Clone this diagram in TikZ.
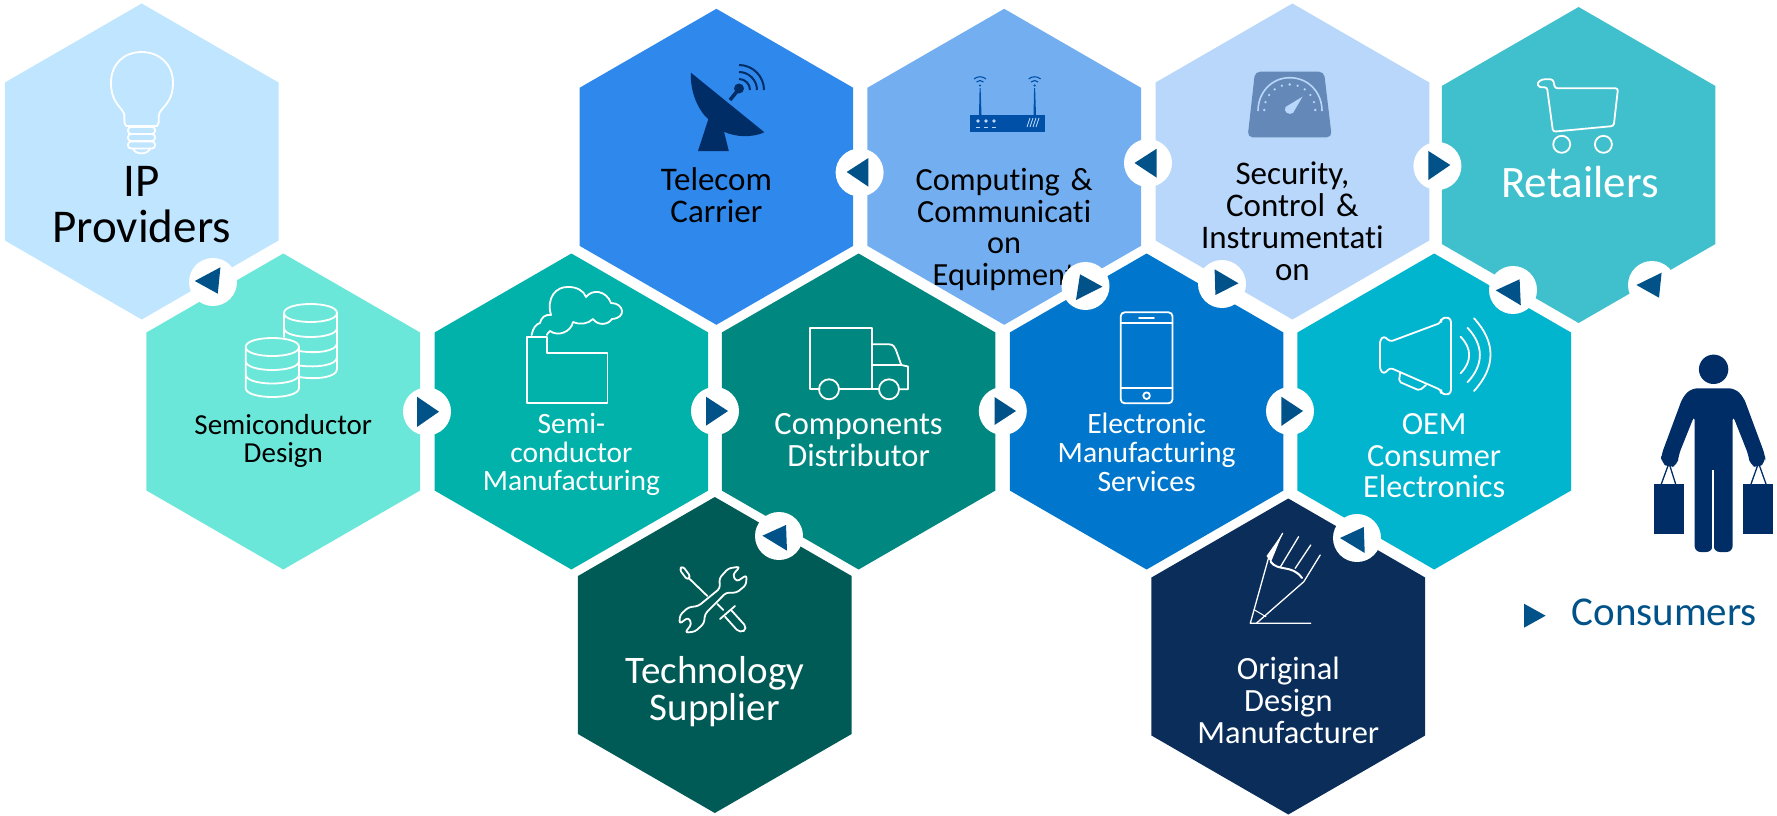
\documentclass[tikz,border=0pt]{standalone}
\usepackage{fontspec}
\setmainfont[Ligatures=NoCommon]{Carlito}
\usepackage{tikz}
\usetikzlibrary{shapes.geometric}

\definecolor{colIP}{HTML}{C0E6FF}
\definecolor{colDesign}{HTML}{6AE7D9}
\definecolor{colFab}{HTML}{00B2AA}
\definecolor{colDistrib}{HTML}{00877F}
\definecolor{colTech}{HTML}{005A55}
\definecolor{colTelecom}{HTML}{2F88EC}
\definecolor{colComputing}{HTML}{73AFF0}
\definecolor{colSecurity}{HTML}{B8D7FA}
\definecolor{colRetail}{HTML}{40C0CC}
\definecolor{colEMS}{HTML}{0077CC}
\definecolor{colOEM}{HTML}{00B5CD}
\definecolor{colODM}{HTML}{0A2D5A}
\definecolor{colTri}{HTML}{005288}
\definecolor{colDark}{HTML}{002D66}
\definecolor{colRouter}{HTML}{0050A8}
\definecolor{colGauge}{HTML}{6488B8}

\begin{document}
\begin{tikzpicture}[x=1pt, y=-1pt,
  hexa/.style ={shape=regular polygon, regular polygon sides=6,
    regular polygon rotate=30, minimum size=316pt, inner sep=0pt, outer sep=0pt},
  %
  hextext/.style 2 args={anchor=base, align=center, text width=260pt,
    font=\fontsize{#1}{#2}\selectfont},
  %
  badge/.style ={circle, fill=white, minimum size=48pt, inner sep=0pt},
  tri/.style ={fill=colTri},
  icon/.style ={draw=white, line width=1.8pt, line join=round, line cap=round} ]

  \useasboundingbox (0,0) rectangle (1777,816);

  \begin{scope}
    %%%%%%%%%%%%%%%%%%%%%%%%%%%%%%% hexagons
    \node [hexa, fill=colIP] (ip) at (141.7,161.5) {};
    \node [hexa, fill=colDesign] (design) at (283.3,411.5) {};
    \node [hexa, fill=colFab] (fab) at (571.4,411.5) {};
    \node [hexa, fill=colDistrib] (distrib) at (858.6,411.5) {};
    \node [hexa, fill=colEMS] (ems) at (1146.6,411.5) {};
    \node [hexa, fill=colOEM] (oem) at (1434.2,411.5) {};
    \node [hexa, fill=colTelecom] (telecom) at (716.4,166.8) {};
    \node [hexa, fill=colComputing] (computing) at (1004.2,166.8) {};
    \node [hexa, fill=colSecurity] (security) at (1292.4,161.5) {};
    \node [hexa, fill=colRetail] (retail) at (1578.6,165) {};
    \node [hexa, fill=colTech] (tech) at (714.8,655) {};
    \node [hexa, fill=colODM] (odm) at (1288.3,656.5) {};
  \end{scope}

  \begin{scope}
    %%%%%%%%%%%%%%%%%%%%%%%%%%%%%%% labels
    \node [hextext={47}{46}] (ipText) at (141.7,196.5) {IP\\Providers};
    \node [hextext={29}{28.5}] (designText) at (283.3,434) {Semiconductor\\Design};
    \node [hextext={29.5}{28.5}, text=white] (fabText) at (571.4,433.5) {Semi-\\conductor\\Manufacturing};
    \node [hextext={32.5}{31.7}, text=white] (distribText) at (858.6,434.5) {Components\\Distributor};
    \node [hextext={29.6}{28.8}, text=white] (emsText) at (1146.6,433.8) {Electronic\\Manufacturing\\Services};
    \node [hextext={32.3}{31.7}, text=white] (oemText) at (1434.2,434.5) {OEM\\Consumer\\Electronics};
    \node [hextext={33}{31.7}] (telecomText) at (716.4,190.5) {Telecom\\Carrier};
    \node [hextext={32.3}{31.7}] (computingText) at (1004.2,190.5) {Computing \&\\Communicati\\on\\Equipment};
    \node [hextext={33}{32}] (securityText) at (1292.4,184.5) {Security,\\Control \&\\Instrumentati\\on};
    \node [hextext={45}{46}, text=white] (retailText) at (1580,197.2) {Retailers};
    \node [hextext={39}{37}, text=white] (techText) at (714.8,683.5) {Technology\\Supplier};
    \node [hextext={32.4}{31.7}, text=white] (odmText) at (1288.3,679.8) {Original\\Design\\Manufacturer};
    \node [hextext={41}{36}, text=colTri, anchor=base west, text width=205pt, align=left] (consumerText) at (1568,625) {Consumers};
  \end{scope}

  %%%%%%%%%%%%%%%%%%%%%%%%%%%%%%% icons
  % bulb
  \draw [icon] (126,126) .. controls (124,124) and (124.4,122) .. (124.4,116)
    .. controls (124.4,108) and (111,105) .. (111,82.7)
    .. controls (111,64) and (124,52) .. (141.6,52)
    .. controls (159,52) and (173,64) .. (173,82.7)
    .. controls (173,105) and (158.8,108) .. (158.8,116)
    .. controls (158.8,122) and (159,124) .. (157,126) -- cycle;
  \foreach \ty in {127,134,141.5}
    \draw [icon, rounded corners=3pt] (128,\ty) rectangle (155,\ty+7);
  \draw [icon] (133,148.5) .. controls (135,155) and (148,155) .. (150,148.5);

  % coins
  \draw [icon] (284,337) -- (284,313) .. controls (284,301) and (337,301) .. (337,313)
    .. controls (337,325) and (284,325) .. (284,313);
  \draw [icon] (337,313) -- (337,369);
  \draw [icon] (284,328) .. controls (284,340) and (337,340) .. (337,328);
  \draw [icon] (299,351) .. controls (318,354) and (337,351) .. (337,343);
  \draw [icon] (299,365.5) .. controls (318,368) and (337,365) .. (337,357);
  \draw [icon] (299,377) .. controls (318,380) and (337,377) .. (337,369);
  \draw [icon] (245.7,347) .. controls (245.7,335) and (299,335) .. (299,347)
    .. controls (299,359) and (245.7,359) .. (245.7,347) -- (245.7,388)
    .. controls (245.7,400) and (299,400) .. (299,388) -- (299,347);
  \foreach \ty in {361,374.5}
    \draw [icon] (245.7,\ty) .. controls (245.7,\ty+12) and (299,\ty+12) .. (299,\ty);

  % factory
  \draw [icon] (527,336.7) -- (547,336.7) -- (547,352.7) -- (607.5,352.7)
    -- (607.5,402.7) -- (527,402.7) -- cycle;
  \draw [icon] (531.6,335) .. controls (533,328) and (536,324) .. (540,323)
    .. controls (541,318) and (545,314) .. (551,315)
    .. controls (546,298) and (556,286) .. (569,287)
    .. controls (577,287) and (584,291) .. (586,297)
    .. controls (592,289) and (606,290) .. (611,303)
    .. controls (624,303) and (627,318) .. (612,319)
    .. controls (608,325) and (598,326) .. (593,319)
    .. controls (588,324) and (580,325) .. (573,322)
    .. controls (571,332) and (558,337) .. (550,331)
    .. controls (548,333) and (547,334) .. (547,335);

  % truck
  \draw [icon] (819.6,389.3) -- (809.7,389.3) -- (809.7,328.3) -- (872,328.3) -- (872,389.3);
  \draw [icon] (838.7,389.3) -- (878.9,389.3);
  \draw [icon] (872,344.3) -- (889,344.3) .. controls (893,344.3) and (895,347) .. (896,350)
    -- (901.3,365) -- (908,366.5) -- (908,389.3) -- (899,389.3);
  \draw [icon] (872,365) -- (901.3,365);
  \draw [icon] (829,389.3) circle (10);
  \draw [icon] (889,389.3) circle (10);

  % tools
  \begin{scope}[shift={(560,520)}, scale=1/3]
    \draw [icon, rounded corners=3pt] (480,205) -- (478,175) -- (505,145) -- (540,140)
      -- (518,165) -- (530,185) -- (560,165) -- (558,195) -- (530,218) -- (498,218)
      -- (435,282) -- (432,310) -- (405,335) -- (375,338) -- (395,312) -- (385,292)
      -- (358,312) -- (360,285) -- (385,262) -- (415,258) -- cycle;
    \draw [icon, rounded corners=3pt] (358,148) -- (368,138) -- (392,170) -- (382,180) -- cycle;
    \draw [icon] (387,175) -- (442,228);
    \draw [icon] (472,252) -- (490,270);
    \draw [icon] (480,297) -- (525,258);
    \draw [icon, rounded corners=5pt] (495,290) -- (540,340) -- (563,325) -- (515,272);
  \end{scope}

  % dish
  \fill [colDark] (690.9,72.7) -- (764.4,132.3) .. controls (752,138) and (735,137) .. (724,131.7)
    -- (728.8,151) -- (698,151) -- (708.3,119.3) .. controls (698,110) and (690,92) .. (690.9,72.7) -- cycle;
  \draw [colDark, line width=3.5pt] (730,100) -- (738.7,89.3);
  \fill [colDark] (739,88.5) circle (5);
  \foreach \rr in {11,18,25}
    \draw [colDark, line width=2pt] (739,90-\rr) .. controls (739+.55*\rr,90-\rr) and (739+\rr,90-.55*\rr) .. (739+\rr,90);

  % router
  \fill [colRouter] (970.4,115) rectangle (1044.8,132);
  \fill [colRouter] (979,115) -- (979.6,88) -- (980.6,88) -- (981.5,115) -- cycle;
  \fill [colRouter] (1033.5,115) -- (1034.1,88) -- (1035.1,88) -- (1036,115) -- cycle;
  \foreach \ax in {980,1034.6} {
    \fill [colRouter] (\ax,85.5) circle (1.2);
    \draw [colRouter, line width=1.1pt] (\ax-3.5,82) .. controls (\ax-1.5,80) and (\ax+1.5,80) .. (\ax+3.5,82);
    \draw [colRouter, line width=1.1pt] (\ax-6,79) .. controls (\ax-2.5,76) and (\ax+2.5,76) .. (\ax+6,79);
  }
  \foreach \dx in {978,986,994} {
    \fill [colSecurity] (\dx,121) circle (1.8);
    \draw [colSecurity, line width=.7pt] (\dx-1.8,127) -- (\dx+1.8,127);
  }
  \foreach \sx in {1027,1030,1033,1036}
    \draw [colSecurity, line width=.9pt] (\sx,127) -- (\sx+3,118);

  % gauge
  \fill [colGauge, rounded corners=5pt] (1255,71.7) -- (1324,71.7) -- (1331.8,137.3) -- (1247.6,137.3) -- cycle;
  \draw [colSecurity, line width=1.6pt] (1258,111) .. controls (1258,92) and (1272,77.7) .. (1289.7,77.7)
    .. controls (1308,77.7) and (1322,92) .. (1322,111);
  \foreach \ang in {0,18,...,180}
    \fill [colSecurity] ({1289.7+25.5*cos(\ang)},{110-25.5*sin(\ang)}) circle (1.3);
  \fill [colSecurity] (1302.5,96.7) -- (1293,113) .. controls (1289,115.5) and (1283,112) .. (1285.5,107) -- cycle;

  % cart
  \draw [icon, rounded corners=2.5pt] (1542,79.3) -- (1553,79.3) -- (1555,88.3) -- (1618,88.3)
    -- (1613.7,126) -- (1553,131.7) -- (1547,87.3) -- (1539,87.3) -- (1537,83) -- cycle;
  \draw [icon] (1561.7,144.3) circle (8.5);
  \draw [icon] (1603.4,144.3) circle (8.5);

  % phone
  \draw [icon, rounded corners=4pt] (1120.7,312.3) rectangle (1172.5,403.3);
  \draw [icon] (1120.7,323.3) -- (1172.5,323.3);
  \draw [icon] (1120.7,388.3) -- (1172.5,388.3);
  \draw [icon] (1139,318) -- (1154,318);
  \draw [icon] (1146.6,395.7) circle (3.3);

  % megaphone
  \draw [icon, rounded corners=3pt] (1390,341.7) -- (1441,322.7) -- (1441,319) -- (1446,317)
    -- (1451,319) -- (1451,393) -- (1446,395) -- (1441,393) -- (1441,390) -- (1390,367.7)
    -- (1384,374) -- (1380,370) -- (1380,340) -- (1384,336) -- cycle;
  \draw [icon, rounded corners=2pt] (1400,373.3) -- (1399,381.7) -- (1419.5,390.5) -- (1426,385);
  \draw [icon] (1460.5,336.7) .. controls (1472,348) and (1472,362) .. (1460.5,373.3);
  \draw [icon] (1467.4,327.7) .. controls (1484,345) and (1484,365) .. (1467.4,382.3);
  \draw [icon] (1474,318.3) .. controls (1496,342) and (1496,367) .. (1474,391);

  % drafting pen
  \draw [icon, line width=1.3pt] (1310.7,623.3) -- (1250.3,623.3) -- (1268.4,558.3) -- (1282.6,533.3);
  \fill [white] (1266.5,556) -- (1282.6,533.3) -- (1271,562) -- cycle;
  \draw [icon, line width=1.3pt] (1256.3,623.3) -- (1303.8,581.7) -- (1320.2,555);
  \draw [icon, line width=1.3pt] (1280.5,566.7) -- (1298.6,536.7);
  \draw [icon, line width=1.3pt] (1295.2,568.3) -- (1310.7,545);
  \draw [icon, line width=2pt] (1270.6,561.7) .. controls (1278,572) and (1292,564) .. (1302,578);
  \draw [icon, line width=1pt] (1254.6,610) -- (1266,616.7);

  % person
  \fill [colDark] (1713.6,369.3) circle (14.7);
  \fill [colDark, rounded corners=6pt] (1694.6,415) -- (1678.6,455) -- (1677.5,465) -- (1669,468)
    -- (1661,462) -- (1661.3,455) -- (1682.9,396.7) -- (1691.5,388.3) -- (1734.7,388.3)
    -- (1743.4,396.7) -- (1765,455) -- (1765.5,462) -- (1758,468) -- (1750,465) -- (1748.5,455)
    -- (1732.6,415) -- (1732.6,552) -- (1713.8,552) -- (1713.1,470) -- (1712.4,552) -- (1694.6,552) -- cycle;
  \draw [white, line width=1.5pt] (1713.1,470) -- (1713.1,552);
  \fill [colDark] (1654,484) rectangle (1683.8,534);
  \fill [colDark] (1743.3,484) rectangle (1772.7,534);
  \draw [colDark, line width=1.3pt] (1661.3,484) -- (1669,463) -- (1675.6,484);
  \draw [colDark, line width=1.3pt] (1751,484) -- (1758.5,463) -- (1766,484);

  \begin{scope}
    %%%%%%%%%%%%%%%%%%%%%%%%%%%%%%% badges
    \node [badge] (ipBadge) at (213,282) {};
    \node [badge] (designBadge) at (427,411.5) {};
    \node [badge] (fabBadge) at (715,411) {};
    \node [badge] (distribBadge) at (1002.8,411) {};
    \node [badge] (emsBadge) at (1290,411) {};
    \node [badge] (techBadge) at (779,536) {};
    \node [badge] (odmBadge) at (1357,538) {};
    \node [badge] (telecomBadge) at (859.6,172.5) {};
    \node [badge] (computingBadge) at (1148,163) {};
    \node [badge] (emsTopBadge) at (1085.5,286) {};
    \node [badge] (securityBadge) at (1222,284) {};
    \node [badge] (retailBadge) at (1437.4,166) {};
    \node [badge] (oemBadge) at (1513,290) {};
    \node [badge] (consumerBadge) at (1652,285) {};

    \fill [tri] (194.8,281) -- (220.4,267.3) -- (217.8,293.7) -- cycle;
    \fill [tri] (417,396.7) -- (439,411.7) -- (417,427) -- cycle;
    \fill [tri] (706,396.7) -- (728,411) -- (706,425.7) -- cycle;
    \fill [tri] (994.5,397) -- (1016,411) -- (994.5,425) -- cycle;
    \fill [tri] (1281.3,396.7) -- (1303,411) -- (1281.3,426) -- cycle;
    \fill [tri] (762.4,535.7) -- (786,525) -- (787,550.7) -- cycle;
    \fill [tri] (1340,538) -- (1363.8,527) -- (1364.7,553) -- cycle;
    \fill [tri] (846.7,172) -- (868.4,158) -- (868.4,186.7) -- cycle;
    \fill [tri] (1134.5,163) -- (1156.7,148.7) -- (1156.7,177.7) -- cycle;
    \fill [tri] (1080,274.3) -- (1102.5,286.7) -- (1076,300) -- cycle;
    \fill [tri] (1214.6,269.3) -- (1238.5,283.3) -- (1215.4,295) -- cycle;
    \fill [tri] (1428.4,151) -- (1450.3,165) -- (1428.4,180) -- cycle;
    \fill [tri] (1495.7,290.3) -- (1519.6,279.3) -- (1520.8,305.3) -- cycle;
    \fill [tri] (1636.4,285) -- (1661.6,272.7) -- (1659,297.7) -- cycle;
    \fill [tri] (1524,603.7) -- (1545.6,615.7) -- (1524,627.7) -- cycle;
  \end{scope}

\end{tikzpicture}
\end{document}
